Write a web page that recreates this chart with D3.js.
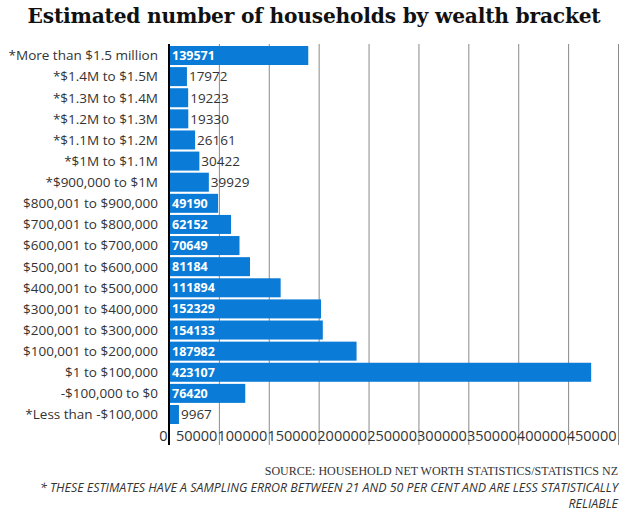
<!DOCTYPE html>
<html>
<head>
<meta charset="utf-8">
<script src="https://cdn.jsdelivr.net/npm/d3@7"></script>
<style>
    body { margin: 0; background: #fff; }
    svg { font-family: "Open Sans", Lato, sans-serif; }
    .grid line { stroke: #8a8a8a; }
    .grid text { fill: #333; font-size: 14.5px; font-family: "Open Sans", sans-serif; }
</style>
</head>
<body>
<div id="chart"></div>
<script>
"use strict";

const categories = [
    "*More than $1.5 million", "*$1.4M to $1.5M", "*$1.3M to $1.4M", "*$1.2M to $1.3M",
    "*$1.1M to $1.2M", "*$1M to $1.1M", "*$900,000 to $1M", "$800,001 to $900,000",
    "$700,001 to $800,000", "$600,001 to $700,000", "$500,001 to $600,000",
    "$400,001 to $500,000", "$300,001 to $400,000", "$200,001 to $300,000",
    "$100,001 to $200,000", "$1 to $100,000", "-$100,000 to $0", "*Less than -$100,000"
];
const households = [
    139571, 17972, 19223, 19330, 26161, 30422, 39929, 49190, 62152, 70649,
    81184, 111894, 152329, 154133, 187982, 423107, 76420, 9967
];
const tickValues = [0, 50000, 100000, 150000, 200000, 250000, 300000, 350000, 400000, 450000];

const width = 629, height = 515;
const plotTop = 44, plotBottom = 445;

const svg = d3.select("#chart").append("svg")
    .attr("width", width)
    .attr("height", height);

const x = d3.scaleLinear().domain([0, 450000]).range([169, 618]);
const y = d3.scaleBand().domain(categories).range([46, 424]).paddingInner(0.1);

svg.append("text")
    .attr("x", 314)
    .attr("y", 23)
    .attr("text-anchor", "middle")
    .style("font-family", "'DejaVu Serif', serif")
    .style("font-weight", "bold")
    .style("font-size", "20.2px")
    .style("letter-spacing", "-0.2px")
    .style("fill", "#111")
    .text("Estimated number of households by wealth bracket");

// gridlines + tick labels
const grid = svg.append("g")
    .attr("class", "grid")
    .attr("transform", "translate(0," + plotBottom + ")")
    .call(d3.axisBottom(x).tickValues(tickValues).tickSize(-(plotBottom - plotTop)).tickFormat(d3.format("d")));
grid.select(".domain").remove();
grid.selectAll("text")
    .attr("text-anchor", "end")
    .attr("dx", "-2")
    .attr("y", -4)
    .attr("dy", 0);

const rows = categories.map((c, i) => ({cat: c, value: households[i]}));
const inside = d => x(d.value) - x(0) > 45;

svg.append("g").selectAll("rect")
    .data(rows)
    .join("rect")
    .attr("x", x(0))
    .attr("y", d => y(d.cat))
    .attr("width", d => x(d.value) - x(0))
    .attr("height", y.bandwidth())
    .attr("fill", "#0a7bd6");

svg.append("g").selectAll("text")
    .data(rows)
    .join("text")
    .attr("x", d => (inside(d) ? x(0) + 3 : x(d.value) + 2))
    .attr("y", d => y(d.cat) + y.bandwidth() / 2)
    .attr("dy", "0.36em")
    .style("font-size", d => (inside(d) ? "12.5px" : "13.5px"))
    .style("font-weight", d => (inside(d) ? "bold" : "normal"))
    .style("fill", d => (inside(d) ? "#fff" : "#333"))
    .text(d => d.value);

svg.append("g").selectAll("text")
    .data(rows)
    .join("text")
    .attr("x", 158)
    .attr("y", d => y(d.cat) + y.bandwidth() / 2)
    .attr("dy", "0.36em")
    .attr("text-anchor", "end")
    .style("font-size", "13.5px")
    .style("fill", "#333")
    .text(d => d.cat);

svg.append("line")
    .attr("x1", x(0)).attr("x2", x(0))
    .attr("y1", plotTop).attr("y2", plotBottom)
    .attr("stroke", "#000")
    .attr("stroke-width", 2);

svg.append("text")
    .attr("x", 618)
    .attr("y", 475)
    .attr("text-anchor", "end")
    .style("font-family", "'Liberation Serif', serif")
    .style("font-size", "12px")
    .style("fill", "#333")
    .text("SOURCE: HOUSEHOLD NET WORTH STATISTICS/STATISTICS NZ");

const note = svg.append("text")
    .attr("text-anchor", "end")
    .style("font-size", "12.4px")
    .style("font-style", "italic")
    .style("fill", "#333");
note.append("tspan").attr("x", 618).attr("y", 492)
    .text("* THESE ESTIMATES HAVE A SAMPLING ERROR BETWEEN 21 AND 50 PER CENT AND ARE LESS STATISTICALLY");
note.append("tspan").attr("x", 618).attr("y", 508)
    .text("RELIABLE");
</script>
</body>
</html>
